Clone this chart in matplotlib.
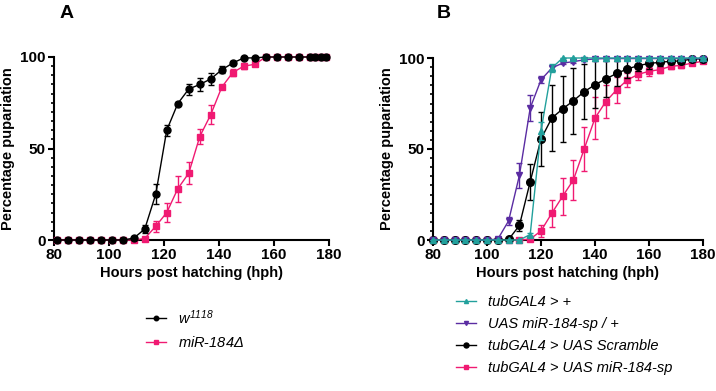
import matplotlib
matplotlib.use("Agg")
import matplotlib.pyplot as plt
from matplotlib.ticker import MultipleLocator
from matplotlib.lines import Line2D

plt.rcParams['font.family'] = ['Liberation Sans', 'DejaVu Sans']
plt.rcParams['mathtext.fontset'] = 'custom'
plt.rcParams['mathtext.it'] = 'Liberation Sans:italic'
plt.rcParams['mathtext.rm'] = 'Liberation Sans:italic'

# colours
PINK = '#f01a72'
TEAL = '#22a09c'
PURPLE = '#5a2ca2'

# ---- panel A data ----
hours_a = [81, 85, 89, 93, 97, 101, 105, 109, 113, 117, 121, 125, 129, 133, 137,
           141, 145, 149, 153, 157, 161, 165, 169, 173, 175, 177, 179]
w1118_mean = [0, 0, 0, 0, 0, 0, 0, 1, 6, 25, 60, 74.5, 82.5, 85, 88,
              93, 96.7, 99.5, 99.5, 100, 100, 100, 100, 100, 100, 100, 100]
w1118_err = [0, 0, 0, 0, 0, 0, 0, 0.5, 2, 5.5, 3, 1, 3, 3.5, 3.5,
             2, 1, 0.5, 0.5, 0, 0, 0, 0, 0, 0, 0, 0]
mir184d_mean = [0, 0, 0, 0, 0, 0, 0, 0, 0.8, 7.5, 15, 28, 36.5, 56.5, 68.5,
                83.5, 91.5, 95, 96, 100, 100, 100, 100, 100, 100, 100, 100]
mir184d_err = [0, 0, 0, 0, 0, 0, 0, 0, 0.5, 3, 5, 7, 6, 4, 5,
               1, 2, 1.5, 1, 0, 0, 0, 0, 0, 0, 0, 0]

# ---- panel B data ----
hours_b = [80, 84, 88, 92, 96, 100, 104, 108, 112, 116, 120, 124, 128, 132, 136,
           140, 144, 148, 152, 156, 160, 164, 168, 172, 176, 180]
tub_mean = [0, 0, 0, 0, 0, 0, 0, 0, 0, 3, 60, 94.5, 100, 100, 100,
            100, 100, 100, 100, 100, 100, 100, 100, 100, 100, 100]
tub_err = [0, 0, 0, 0, 0, 0, 0, 0, 0, 1, 5, 2, 0, 0, 0,
           0, 0, 0, 0, 0, 0, 0, 0, 0, 0, 0]
uas_mean = [0, 0, 0, 0, 0, 0, 0.5, 10.5, 35.5, 72.5, 88, 94.5, 97.2, 98, 99,
            99.5, 99.7, 99.7, 99.7, 99.7, 99.7, 99.7, 99.7, 99.7, 99.7, 99.7]
uas_err = [0, 0, 0, 0, 0, 0, 0.3, 2, 7, 7, 2, 1, 0.5, 0.5, 0.5,
           0.3, 0.3, 0.3, 0.3, 0.3, 0.3, 0.3, 0.3, 0.3, 0.3, 0.3]
scr_mean = [0, 0, 0, 0, 0, 0, 0, 0.3, 8, 32, 55.5, 67, 72, 76.5, 81.5,
            85.3, 88.5, 91.5, 94, 95.8, 97, 97.6, 98.2, 98.4, 99.5, 99.5]
scr_err = [0, 0, 0, 0, 0, 0, 0, 0.3, 3, 10, 15, 18, 18, 18, 15,
           13, 10, 7, 5, 3, 3, 2, 1.5, 1, 0.5, 0.5]
sp_mean = [0, 0, 0, 0, 0, 0, 0, 0, 0, 0.5, 5, 14.7, 24, 33, 50,
           67, 76, 82.5, 88, 91, 92.7, 93.6, 95.4, 96, 97.2, 98.2]
sp_err = [0, 0, 0, 0, 0, 0, 0, 0, 0, 0.3, 3.5, 7.5, 10, 11, 12,
          11.5, 9, 7, 4, 3, 2.5, 2, 1.5, 1.5, 1, 1]

fig = plt.figure(figsize=(7.16, 3.91), dpi=100)
axA = fig.add_axes([54 / 716, 1 - 240 / 391, 275 / 716, 183 / 391])
axB = fig.add_axes([433 / 716, 1 - 240 / 391, 270 / 716, 182 / 391])


def draw(ax, x, y, e, color, marker, ms, z):
    ax.errorbar(x, y, yerr=e, color=color, marker=marker, ms=ms, lw=1.0,
                elinewidth=1.0, capsize=2.5, capthick=1.0,
                clip_on=False, zorder=z)
    # simple line + small marker for the legend, like the original
    return Line2D([], [], color=color, marker=marker, ms=ms * 0.65, lw=1.0)


hp = draw(axA, hours_a, mir184d_mean, mir184d_err, PINK, 's', 5, 3)
hw = draw(axA, hours_a, w1118_mean, w1118_err, 'black', 'o', 5, 4)

h4 = draw(axB, hours_b, sp_mean, sp_err, PINK, 's', 5, 3)
h3 = draw(axB, hours_b, scr_mean, scr_err, 'black', 'o', 5.5, 4)
h2 = draw(axB, hours_b, uas_mean, uas_err, PURPLE, 'v', 4.5, 5)
h1 = draw(axB, hours_b, tub_mean, tub_err, TEAL, '^', 4.5, 6)

for ax in (axA, axB):
    ax.set_xlim(80, 180)
    ax.set_ylim(0, 100)
    ax.set_xticks([80, 100, 120, 140, 160, 180])
    ax.set_yticks([0, 50, 100])
    ax.yaxis.set_minor_locator(MultipleLocator(5))
    for s in ('top', 'right'):
        ax.spines[s].set_visible(False)
    for s in ('left', 'bottom'):
        ax.spines[s].set_linewidth(1.5)
    ax.tick_params(which='major', length=4, width=1.5, labelsize=11, pad=2)
    ax.tick_params(which='minor', length=2.5, width=1.2)
    for lab in ax.get_xticklabels() + ax.get_yticklabels():
        lab.set_fontweight('bold')
    ax.set_xlabel('Hours post hatching (hph)', fontsize=10.5, fontweight='bold', labelpad=3)
    ax.set_ylabel('Percentage pupariation', fontsize=10.5, fontweight='bold', labelpad=4)

fig.text(60 / 716, 1 - 14 / 391, 'A', fontsize=14, fontweight='bold', va='center')
fig.text(437 / 716, 1 - 14 / 391, 'B', fontsize=14, fontweight='bold', va='center')

axA.legend([hw, hp], [r'$w^{1118}$', r'$\mathit{miR}$-$\mathit{184\Delta}$'],
           loc='upper left', bbox_to_anchor=(146 / 716, 1 - 308 / 391),
           bbox_transform=fig.transFigure, frameon=False, borderpad=0, borderaxespad=0,
           handlelength=1.4, handletextpad=0.8, labelspacing=0.55, fontsize=10.5)

axB.legend([h1, h2, h3, h4],
           ['tubGAL4 > +', 'UAS miR-184-sp / +', 'tubGAL4 > UAS Scramble',
            'tubGAL4 > UAS miR-184-sp'],
           loc='upper left', bbox_to_anchor=(456 / 716, 1 - 295 / 391),
           bbox_transform=fig.transFigure, frameon=False, borderpad=0, borderaxespad=0,
           handlelength=1.4, handletextpad=0.8, labelspacing=0.55,
           prop={'size': 10.5, 'style': 'italic'})

fig.savefig('out.png', dpi=100)
